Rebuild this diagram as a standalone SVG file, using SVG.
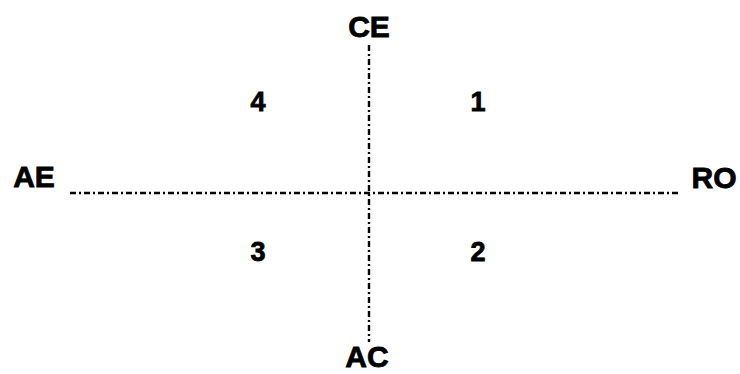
<svg xmlns="http://www.w3.org/2000/svg" width="740" height="374" viewBox="0 0 740 374">
<style>
.t{font-family:"Liberation Sans",Arial,sans-serif;font-weight:bold;fill:#000;stroke:#000;stroke-width:0.8;text-anchor:middle}
.ax{font-size:30px}
.n{font-size:27px}
.ln{stroke:#000;stroke-width:2.4;stroke-dasharray:6 3 2 3;fill:none}
</style>
<rect width="740" height="374" fill="#fff"/>
<g id="connectors">
<line class="ln" x1="70" y1="193" x2="678" y2="193"/>
<line class="ln" x1="369" y1="45" x2="369" y2="342"/>
</g>
<g id="CE"><text class="t ax" x="369" y="37">CE</text></g>
<g id="AE"><text class="t ax" x="34" y="187">AE</text></g>
<g id="RO"><text class="t ax" x="714" y="188">RO</text></g>
<g id="AC"><text class="t ax" x="367" y="367">AC</text></g>
<g id="q4"><text class="t n" x="258" y="111">4</text></g>
<g id="q1"><text class="t n" x="478" y="111">1</text></g>
<g id="q3"><text class="t n" x="258" y="261">3</text></g>
<g id="q2"><text class="t n" x="478" y="261">2</text></g>
</svg>
